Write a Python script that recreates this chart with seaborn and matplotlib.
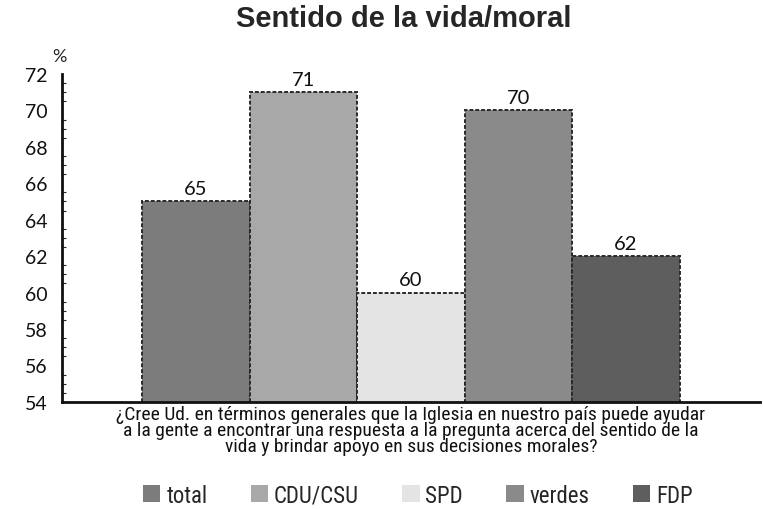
import pandas as pd
import matplotlib
matplotlib.use('Agg')
import matplotlib.pyplot as plt
from matplotlib import font_manager
import seaborn as sns

# datos
partidos = ['total', 'CDU/CSU', 'SPD', 'verdes', 'FDP']
valores = [65, 71, 60, 70, 62]
colores = ['#7c7c7c', '#a8a8a8', '#e4e4e4', '#8a8a8a', '#5e5e5e']
pregunta = ('¿Cree Ud. en términos generales que la Iglesia en nuestro país puede ayudar\n'
            'a la gente a encontrar una respuesta a la pregunta acerca del sentido de la\n'
            'vida y brindar apoyo en sus decisiones morales?')
titulo = 'Sentido de la vida/moral'

df = pd.DataFrame({'pregunta': [pregunta] * len(partidos),
                   'partido': partidos,
                   'valor': valores})

sns.set_style('white')
plt.rcParams['font.family'] = ['Lato', 'DejaVu Sans']

# fuente estrecha si existe
nombres = set(f.name for f in font_manager.fontManager.ttflist)
estrecha = 'DejaVu Sans'
for cand in ['Liberation Sans Narrow', 'DejaVu Sans Condensed', 'Roboto Condensed']:
    if cand in nombres:
        estrecha = cand
        break

fig = plt.figure(figsize=(7.63, 5.10), dpi=100)
ax = fig.add_axes([0.081, 0.21, 0.915, 0.643])

sns.barplot(data=df, x='pregunta', y='valor', hue='partido', hue_order=partidos,
            palette=colores, width=0.77, saturation=1, ax=ax,
            edgecolor='#2a2a2a', linewidth=1.4)

for bar in ax.patches:
    bar.set_linestyle((0, (2, 1)))

for cont in ax.containers:
    ax.bar_label(cont, fmt='%d', padding=3, fontsize=14.5, color='#111111')

ax.set_ylim(54, 72)
ax.set_xlim(-0.5, 0.5)
ax.set_yticks(range(54, 73, 2))
ax.set_yticks([y / 2 for y in range(108, 145)], minor=True)
ax.tick_params(axis='y', which='major', direction='out', length=8, width=1.5,
               labelsize=14, colors='#111111', pad=2)
ax.tick_params(axis='y', which='minor', direction='in', length=3, width=0.8, left=True)
ax.tick_params(axis='x', length=0, pad=2)
for lab in ax.get_xticklabels():
    lab.set_family([estrecha, 'DejaVu Sans'])
    lab.set_fontsize(14)
    lab.set_linespacing(0.86)
    lab.set_color('#111111')

ax.set_xlabel('')
ax.set_ylabel('')
ax.text(-0.003, 1.03, '%', transform=ax.transAxes, ha='center', va='bottom', fontsize=13)

sns.despine(ax=ax, top=True, right=True)
ax.spines['left'].set_linewidth(2)
ax.spines['bottom'].set_linewidth(2)
ax.spines['left'].set_color('#111111')
ax.spines['bottom'].set_color('#111111')

fig.suptitle(titulo, fontsize=21, fontweight='bold', x=0.529, y=0.99,
             family=['Liberation Sans', 'DejaVu Sans'])

leg = ax.legend(loc='center', bbox_to_anchor=(0.51, -0.285), ncol=5, frameon=False,
                handlelength=0.75, handleheight=0.75, handletextpad=0.25, columnspacing=1.9,
                prop={'family': [estrecha, 'DejaVu Sans'], 'size': 16.5})
for h in leg.legend_handles:
    h.set_edgecolor('none')

fig.savefig('out.png', dpi=100)
